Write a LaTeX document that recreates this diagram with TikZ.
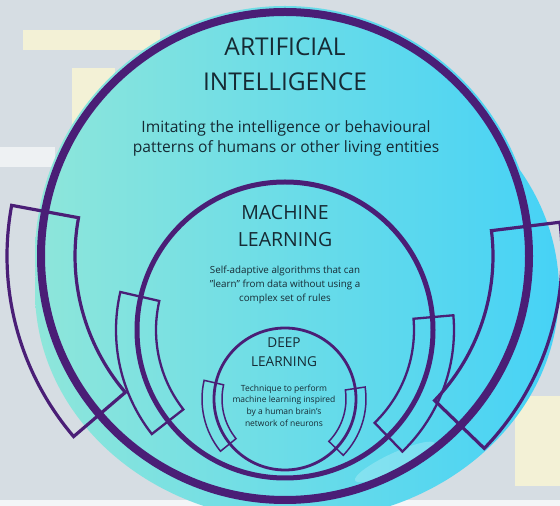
\documentclass[tikz,border=0pt]{standalone}
\usepackage{fontspec}
\setmainfont{Open Sans}
\usetikzlibrary{calc}
\definecolor{ringpurple}{RGB}{74,30,118}
\definecolor{mintfill}{RGB}{142,230,218}
\definecolor{cyanfill}{RGB}{70,210,246}
\definecolor{inktext}{RGB}{22,42,52}
\definecolor{bggray}{RGB}{214,221,227}
\definecolor{paleyellow}{RGB}{243,241,214}

\begin{document}
\begin{tikzpicture}[x=1pt, y=1pt]
\tikzstyle{ring} = [draw=ringpurple, circle, inner sep=0pt]
\tikzstyle{band} = [draw=ringpurple, line join=miter]
\tikzstyle{bigtitle} = [text=inktext, align=center, font=\fontsize{24.5}{35}\selectfont]
\tikzstyle{midtitle} = [text=inktext, align=center, font=\fontsize{19.5}{27}\selectfont]
\tikzstyle{smalltitle} = [text=inktext, align=center, font=\fontsize{13.6}{19}\selectfont]

% background photo, blurred
\fill[bggray] (0,0) rectangle (560,506);
\useasboundingbox (0,0) rectangle (560,506);
\fill[paleyellow] (23,456) rectangle (160,476);
\fill[paleyellow] (72,366) rectangle (115,438);
\fill[white, opacity=0.6] (0,339) rectangle (55,359);
\fill[paleyellow] (515,20) rectangle (560,110);
\fill[white!70!bggray] (0,0) rectangle (560,6);

% brush fill
\shade[left color=mintfill, right color=cyanfill] (285,250) circle (250) (297,215) ellipse [x radius=262, y radius=230];
\fill[white, opacity=0.22, rotate around={25:(395,44)}] (395,44) ellipse [x radius=44, y radius=9];

% circles
\node[ring, minimum size=488pt, line width=8pt] (ai) at (285,250) {};
\node[ring, minimum size=296pt, line width=5pt] (ml) at (285,176) {};
\node[ring, minimum size=142pt, line width=2.8pt] (dl) at (285,107) {};

% texts
\node[bigtitle] (aititle) at (285,441.5) {ARTIFICIAL\\INTELLIGENCE};
\node[text=inktext, align=center, font=\fontsize{15.6}{20}\selectfont] (aitext) at (286,368) {Imitating the intelligence or behavioural\\patterns of humans or other living entities};
\node[midtitle] (mltitle) at (285,279.5) {MACHINE\\LEARNING};
\node[text=inktext, align=center, font=\fontsize{9.8}{14}\selectfont] (mltext) at (285,221.5) {Self-adaptive algorithms that can\\"learn" from data without using a\\complex set of rules};
\node[smalltitle] (dltitle) at (284,153.5) {DEEP\\LEARNING};
\node[text=inktext, align=center, font=\fontsize{8.5}{11.7}\selectfont] (dltext) at (284,100.5) {Technique to perform\\machine learning inspired\\by a human brain's\\network of neurons};

% bands
\draw[band, line width=3.2pt] ([shift={(169.5:278)}]ai.center) arc[start angle=169.5, end angle=220.5, radius=278] -- ([shift={(220.5:210)}]ai.center) arc[start angle=220.5, end angle=169.5, radius=210] -- cycle;
\draw[band, line width=3.2pt] ([shift={(7:277)}]ai.center) arc[start angle=7, end angle=-44, radius=277] -- ([shift={(-44:208)}]ai.center) arc[start angle=-44, end angle=7, radius=208] -- cycle;
\draw[band, line width=2.3pt] ([shift={(167:169)}]ml.center) arc[start angle=167, end angle=218, radius=169] -- ([shift={(218:129)}]ml.center) arc[start angle=218, end angle=167, radius=129] -- cycle;
\draw[band, line width=2.3pt] ([shift={(5:169)}]ml.center) arc[start angle=5, end angle=-46, radius=169] -- ([shift={(-46:129)}]ml.center) arc[start angle=-46, end angle=5, radius=129] -- cycle;
\draw[band, line width=1.5pt] ([shift={(167:83)}]dl.center) arc[start angle=167, end angle=219, radius=83] -- ([shift={(219:63)}]dl.center) arc[start angle=219, end angle=167, radius=63] -- cycle;
\draw[band, line width=1.5pt] ([shift={(8.5:81)}]dl.center) arc[start angle=8.5, end angle=-44, radius=81] -- ([shift={(-44:61)}]dl.center) arc[start angle=-44, end angle=8.5, radius=61] -- cycle;
\end{tikzpicture}
\end{document}
